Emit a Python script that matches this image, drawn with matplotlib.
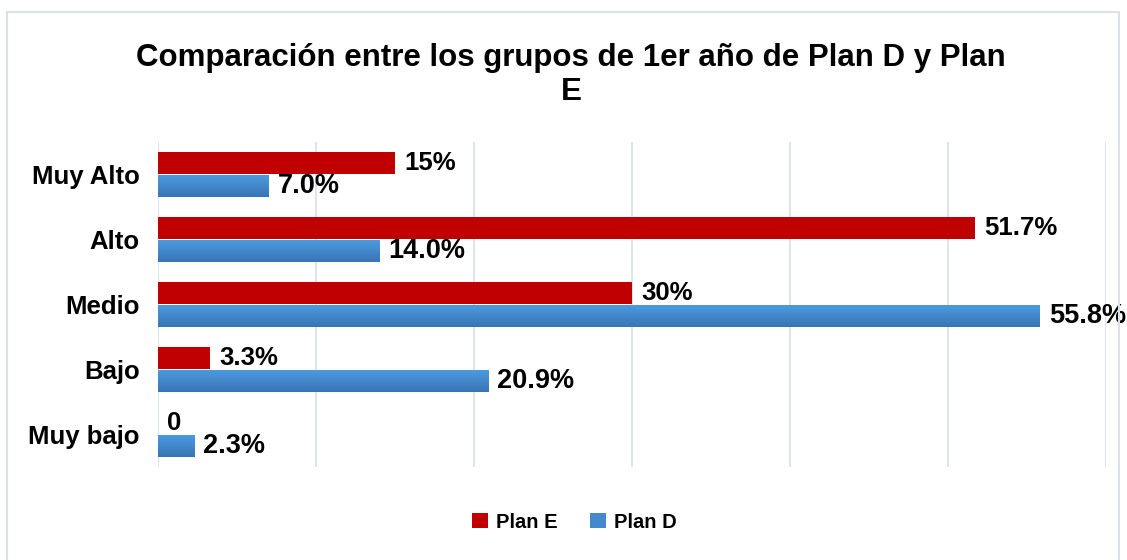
import numpy as np
import matplotlib
matplotlib.use("Agg")
import matplotlib.pyplot as plt
from matplotlib.patches import Rectangle
from matplotlib.colors import LinearSegmentedColormap
from matplotlib.transforms import offset_copy

# datos de la gráfica
categorias = ["Muy Alto", "Alto", "Medio", "Bajo", "Muy bajo"]
plan_e = [15, 51.7, 30, 3.3, 0]
plan_d = [7.0, 14.0, 55.8, 20.9, 2.3]
etiquetas_e = ["15%", "51.7%", "30%", "3.3%", "0"]
etiquetas_d = ["7.0%", "14.0%", "55.8%", "20.9%", "2.3%"]
titulo = "Comparación entre los grupos de 1er año de Plan D y Plan\nE"

ROJO = "#C00000"
AZUL = "#4389CC"
degradado = LinearSegmentedColormap.from_list("azul", ["#4C9CE0", "#4389CC", "#3874B4"])

plt.rcParams["font.family"] = ["Liberation Sans", "DejaVu Sans"]

fig = plt.figure(figsize=(11.27, 5.6), dpi=100)
ax = fig.add_axes([158 / 1127, 93 / 560, 948 / 1127, 325 / 560])

# marco exterior del gráfico
fig.patches.append(Rectangle((7 / 1127, -0.1), 1112 / 1127, 1.1 - 12 / 560,
                             transform=fig.transFigure, fill=False,
                             edgecolor="#DCE1E8", linewidth=1.5))

y = np.arange(len(categorias))
h = 0.34
ax.barh(y - h / 2, plan_e, height=h, color=ROJO, label="Plan E", zorder=3)
barras_d = ax.barh(y + h / 2, plan_d, height=h, color=AZUL, label="Plan D", zorder=3)

# degradado vertical en las barras azules
grad = np.linspace(0, 1, 50).reshape(-1, 1)
for b in barras_d:
    x0, y0 = b.get_x(), b.get_y()
    w, hh = b.get_width(), b.get_height()
    im = ax.imshow(grad, cmap=degradado, aspect="auto", zorder=3.5,
                   extent=(x0, x0 + w, y0, y0 + hh), origin="lower")
    im.set_clip_path(b)

ax.set_xlim(0, 60)
ax.set_ylim(len(categorias) - 0.5, -0.5)
ax.set_xticks(np.arange(0, 61, 10))
ax.set_xticklabels([])
ax.grid(axis="x", color="#D9DEE8", linewidth=1.2, zorder=0)
ax.tick_params(length=0)
for s in ax.spines.values():
    s.set_visible(False)

ax.set_yticks(y)
ax.set_yticklabels(categorias, fontsize=18.5, fontweight="bold")
ax.tick_params(axis="y", pad=13)

# etiquetas de datos
desplaza = offset_copy(ax.transData, fig=fig, x=9, y=0, units="dots")
for i in range(len(categorias)):
    ax.text(plan_e[i], y[i] - h / 2, etiquetas_e[i], transform=desplaza,
            ha="left", va="center", fontsize=18.5, fontweight="bold", zorder=4)
    ax.text(plan_d[i], y[i] + h / 2, etiquetas_d[i], transform=desplaza,
            ha="left", va="center", fontsize=19.5, fontweight="bold", zorder=4)

fig.text(571 / 1127, 1 - 75 / 560, titulo, ha="center", va="center",
         fontsize=22.5, fontweight="bold", linespacing=1.2)

fig.legend(loc="center", bbox_to_anchor=(574 / 1127, 1 - 522 / 560), ncol=2,
           frameon=False, prop={"size": 14.5, "weight": "bold"},
           handlelength=0.8, handleheight=0.8, handletextpad=0.4,
           columnspacing=1.6)

fig.savefig("out.png", dpi=100, facecolor="white")
